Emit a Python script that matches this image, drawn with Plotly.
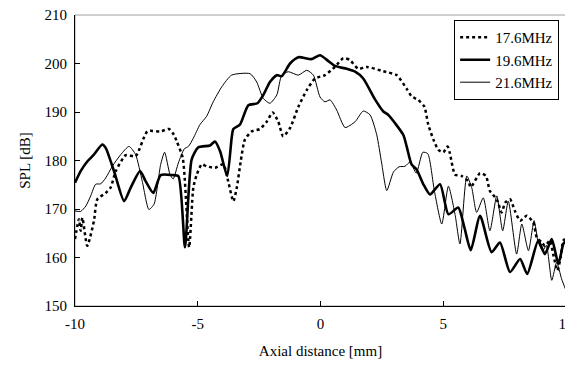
import plotly.graph_objects as go

# 17.6 MHz (dotted)
x_176 = [-10, -9.84, -9.77, -9.70, -9.50, -9.23, -9.09, -8.75, -8.55, -8.34, -7.93, -7.53, -7.05, -6.51,
         -6.17, -5.97, -5.86, -5.61, -5.35, -5.18, -5.04, -4.84, -4.64, -4.30, -3.96, -3.76, -3.55, -3.41,
         -3.25, -3.08, -2.80, -2.46, -2.19, -1.95, -1.72, -1.52, -1.24, -0.90, -0.56, -0.22, 0.18, 0.59,
         0.93, 1.20, 1.54, 1.88, 2.56, 3.10, 3.51, 3.71, 3.98, 4.23, 4.39, 4.60, 4.80, 5.00, 5.18, 5.27,
         5.48, 5.75, 6.02, 6.12, 6.50, 6.74, 6.90, 7.18, 7.38, 7.52, 7.72, 7.92, 8.13, 8.40, 8.67, 8.81,
         9.01, 9.14, 9.35, 9.48, 9.65, 9.78, 9.89, 10.0]
y_176 = [163.8, 167.9, 165.5, 168.2, 162.4, 167.5, 172.0, 173.3, 174.4, 177.8, 181.1, 180.9, 186.0, 186.0,
         186.5, 185.3, 184.0, 180.5, 162.1, 174.4, 177.1, 179.2, 178.8, 178.5, 179.2, 175.7, 171.6, 174.4,
         179.8, 184.3, 186.0, 186.5, 188.0, 189.9, 188.0, 185.0, 186.7, 191.1, 194.5, 196.9, 197.6, 199.3,
         201.1, 200.7, 198.9, 199.3, 198.4, 197.6, 194.8, 193.2, 192.5, 191.1, 187.4, 184.3, 182.2, 181.7,
         182.9, 181.5, 177.1, 176.8, 175.7, 174.5, 177.4, 176.8, 173.7, 172.0, 169.3, 171.3, 172.0, 169.6,
         167.6, 168.6, 167.2, 164.1, 163.1, 162.4, 163.5, 160.7, 157.3, 160.0, 163.5, 164.0]

# 19.6 MHz (bold)
x_196 = [-10, -9.77, -9.5, -9.23, -8.89, -8.75, -8.41, -8.0, -7.73, -7.35, -7.12, -6.81, -6.51, -6.04,
         -5.79, -5.52, -5.25, -4.98, -4.5, -4.30, -4.09, -3.8, -3.62, -3.55, -3.28, -2.94, -2.57, -2.33,
         -2.06, -1.78, -1.58, -1.24, -0.90, -0.36, -0.02, 0.32, 0.59, 1.07, 1.41, 1.74, 2.22, 2.56, 2.76,
         3.37, 3.51, 3.71, 3.92, 4.19, 4.46, 4.87, 5.21, 5.61, 5.86, 6.12, 6.50, 6.97, 7.31, 7.72, 8.13,
         8.42, 8.87, 9.14, 9.42, 9.69, 9.89, 10.0]
y_196 = [175.4, 177.8, 179.8, 181.2, 183.3, 182.6, 177.8, 171.6, 174.4, 177.8, 175.7, 173.3, 177.0, 177.0,
         176.8, 162.1, 180.2, 182.7, 183.1, 183.9, 181.9, 176.8, 184.6, 186.5, 187.4, 191.4, 191.8, 193.5,
         196.2, 197.6, 197.4, 200.0, 201.3, 200.9, 201.7, 200.5, 199.5, 198.9, 198.3, 196.9, 192.6, 190.1, 189.4,
         185.3, 182.9, 179.2, 178.1, 175.1, 173.0, 175.1, 168.9, 170.3, 166.2, 161.5, 168.6, 161.1, 163.1, 157.0, 159.7,
         156.6, 163.5, 160.7, 163.8, 158.7, 162.8, 163.5]

# 21.6 MHz (thin)
x_216 = [-10, -9.77, -9.56, -9.36, -9.16, -8.95, -8.75, -8.48, -8.14, -7.80, -7.53, -7.26, -6.99, -6.78,
         -6.51, -6.35, -6.13, -6.0, -5.79, -5.55, -5.38, -5.18, -4.91, -4.64, -4.37, -4.02, -3.62, -2.87,
         -2.60, -2.33, -2.06, -1.78, -1.58, -1.31, -0.90, -0.56, -0.29, -0.02, 0.18, 0.39, 0.66, 1.00,
         1.41, 1.74, 2.02, 2.29, 2.49, 2.70, 2.97, 3.20, 3.44, 3.65, 3.90, 4.17, 4.37, 4.64, 4.94, 5.21,
         5.48, 5.68, 5.96, 6.16, 6.36, 6.63, 6.90, 7.18, 7.42, 7.65, 7.99, 8.20, 8.47, 8.70, 8.87, 9.05,
         9.2, 9.42, 9.62, 9.82, 10.0]
y_216 = [169.6, 169.5, 170.6, 172.7, 175.1, 175.2, 176.4, 178.8, 181.2, 182.9, 181.2, 175.7, 169.9, 171.0,
         179.2, 181.7, 177.1, 176.2, 179.5, 182.4, 182.9, 184.6, 187.4, 189.1, 192.1, 195.2, 197.6, 197.9,
         196.2, 192.8, 191.8, 193.5, 197.6, 198.3, 197.6, 198.6, 197.6, 193.1, 192.1, 192.5, 190.4, 186.8,
         188.0, 190.2, 189.4, 185.3, 179.5, 173.8, 177.6, 178.7, 178.8, 179.7, 177.4, 181.7, 181.4, 173.7, 166.9, 174.7,
         168.9, 162.8, 176.8, 174.4, 169.3, 172.3, 165.5, 172.7, 165.5, 171.6, 160.7, 166.9, 161.4, 167.6, 163.1, 161.4,
         162.5, 155.3, 159.0, 155.6, 153.2]

x_ticks = [-10, -5, 0, 5, 10]
y_ticks = [150, 160, 170, 180, 190, 200, 210]

FONT = "Liberation Serif"
FS = 15

fig = go.Figure()
fig.add_trace(go.Scatter(x=x_176, y=y_176, mode="lines", name="17.6MHz", legendgroup="a",
                         line=dict(color="black", width=2.5, dash="3px,3px", shape="spline", smoothing=0.6)))
fig.add_trace(go.Scatter(x=x_196, y=y_196, mode="lines", name="19.6MHz", legendgroup="b",
                         line=dict(color="black", width=2.6, shape="spline", smoothing=0.6)))
fig.add_trace(go.Scatter(x=x_216, y=y_216, mode="lines", name="21.6MHz", legendgroup="c",
                         line=dict(color="black", width=1, shape="spline", smoothing=0.6)))

fig.add_shape(type="rect", xref="paper", yref="paper", x0=0, y0=0, x1=1, y1=1,
              line=dict(color="#a0a0a0", width=1), layer="below")

# the page body adds an 8px offset, so margins compensate for it
fig.update_layout(
    width=573, height=373,
    margin=dict(l=67, r=15, t=7, b=75),
    paper_bgcolor="white", plot_bgcolor="white",
    font=dict(family=FONT, size=FS, color="black"),
    showlegend=True,
    legend=dict(x=0.986, y=0.983, xanchor="right", yanchor="top",
                bgcolor="white", bordercolor="black", borderwidth=1,
                font=dict(family=FONT, size=FS), traceorder="grouped", tracegroupgap=0),
    xaxis=dict(range=[-10, 10], tickvals=x_ticks, ticktext=[str(v) for v in x_ticks],
               showgrid=False, zeroline=False, showline=True, linecolor="black", linewidth=1,
               ticks="inside", ticklen=5, tickcolor="black", ticklabelstandoff=4,
               ticklabeloverflow="allow", automargin=False,
               tickfont=dict(family=FONT, size=FS),
               title=dict(text="Axial distance [mm]", standoff=14, font=dict(family=FONT, size=FS))),
    yaxis=dict(range=[150, 210], tickvals=y_ticks, ticktext=[str(v) for v in y_ticks],
               showgrid=False, zeroline=False, showline=True, linecolor="black", linewidth=1,
               ticks="inside", ticklen=5, tickcolor="black", ticklabelstandoff=4,
               ticklabeloverflow="allow", automargin=False,
               tickfont=dict(family=FONT, size=FS),
               title=dict(text="SPL [dB]", standoff=10, font=dict(family=FONT, size=FS))),
)

fig.write_html("out.html")
